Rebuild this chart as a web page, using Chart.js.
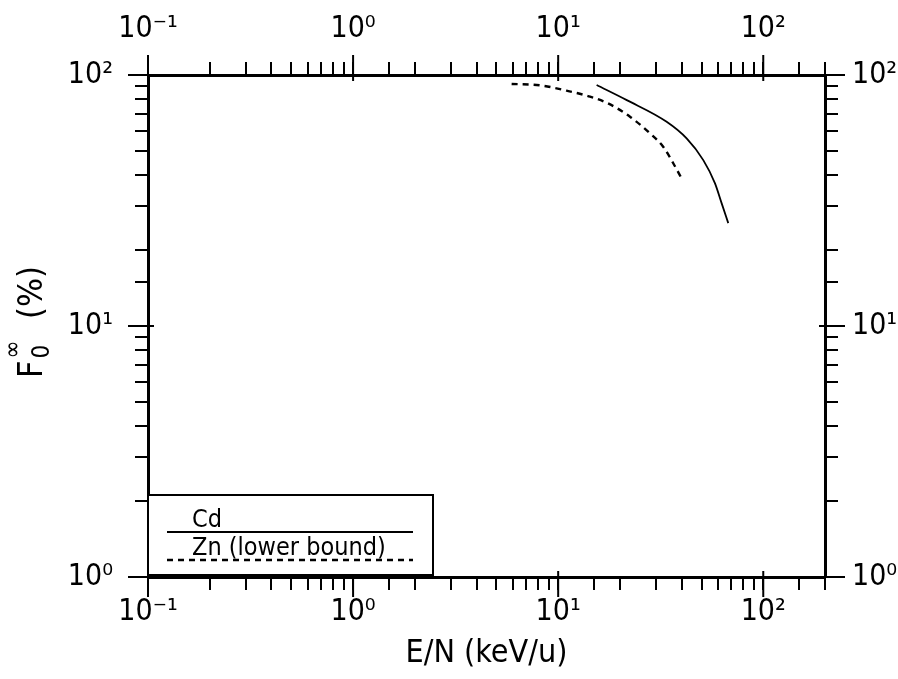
<!DOCTYPE html>
<html>
<head>
<meta charset="utf-8">
<title>F0 vs E/N</title>
<script src="https://cdn.jsdelivr.net/npm/chart.js@4"></script>
<style>
  body { margin: 0; background: #fff; }
  #wrap { width: 898px; height: 679px; }
</style>
</head>
<body>
<div id="wrap"><canvas id="chart" width="898" height="679"></canvas></div>
<script>
// Valores (E/N en keV/u, F0 en %)
const cdEnergy = [15.4, 21.6, 33.8, 42.3, 51.0, 58.1, 62.7, 67.5];
const cdFraction = [91.2, 79.4, 65.1, 55.9, 45.8, 37.1, 30.8, 25.7];
const znEnergy = [5.93, 8.15, 11.0, 14.3, 17.5, 22.4, 28.0, 32.5, 36.4, 40.0];
const znFraction = [92.1, 91.0, 86.6, 82.0, 77.1, 68.2, 58.6, 51.8, 44.5, 38.7];

const seriesLabels = ['Cd', 'Zn (lower bound)'];
const xTickValues = [0.1, 1, 10, 100];
const xTickLabels = ['10⁻¹', '10⁰', '10¹', '10²'];
const yTickValues = [1, 10, 100];
const yTickLabels = ['10⁰', '10¹', '10²'];
const xTitle = 'E/N (keV/u)';

const FONT = "'DejaVu Sans Condensed', 'DejaVu Sans', sans-serif";

function isDecade(v) {
    const l = Math.log10(v);
    return Math.abs(l - Math.round(l)) < 1e-9;
}

function labelFor(values, labels) {
    return function (value) {
        for (let i = 0; i < values.length; i++) {
            if (Math.abs(value - values[i]) / values[i] < 1e-9) return labels[i];
        }
        return '';
    };
}

function toPoints(xs, ys) {
    return xs.map((x, i) => ({ x: x, y: ys[i] }));
}

// Marcas mayores más largas (cruzan el borde)
const majorTicks = {
    id: 'majorTicks',
    afterDraw(chart) {
        const ctx = chart.ctx;
        const a = chart.chartArea;
        ctx.save();
        ctx.strokeStyle = '#000';
        ctx.lineWidth = 2;
        ['x', 'x2', 'y', 'y2'].forEach(id => {
            const s = chart.scales[id];
            s.ticks.forEach(t => {
                if (!isDecade(t.value)) return;
                const p = s.getPixelForValue(t.value);
                ctx.beginPath();
                if (id === 'x') { ctx.moveTo(p, a.bottom - 6); ctx.lineTo(p, a.bottom + 20); }
                if (id === 'x2') { ctx.moveTo(p, a.top + 6); ctx.lineTo(p, a.top - 20); }
                if (id === 'y') { ctx.moveTo(a.left + 6, p); ctx.lineTo(a.left - 20, p); }
                if (id === 'y2') { ctx.moveTo(a.right - 6, p); ctx.lineTo(a.right + 20, p); }
                ctx.stroke();
            });
        });
        ctx.restore();
    }
};

// Título del eje Y con subíndice y superíndice: F_0^∞ (%)
const yTitle = {
    id: 'yTitle',
    afterDraw(chart) {
        const ctx = chart.ctx;
        const a = chart.chartArea;
        ctx.save();
        ctx.translate(30, (a.top + a.bottom) / 2 - 4);
        ctx.rotate(-Math.PI / 2);
        ctx.fillStyle = '#000';
        ctx.textBaseline = 'alphabetic';
        ctx.textAlign = 'left';
        const big = '34px ' + FONT;
        const small = '24px ' + FONT;
        ctx.font = big;
        const wF = ctx.measureText('F').width;
        ctx.font = small;
        const wS = Math.max(ctx.measureText('0').width, ctx.measureText('∞').width);
        ctx.font = big;
        const wP = ctx.measureText('  (%)').width;
        let x = -(wF + wS + wP + 4) / 2;
        const base = 12;
        ctx.fillText('F', x, base);
        x += wF + 2;
        ctx.font = small;
        ctx.fillText('0', x, base + 7);
        ctx.fillText('∞', x, base - 22);
        x += wS + 2;
        ctx.font = big;
        ctx.fillText('  (%)', x, base);
        ctx.restore();
    }
};

// Leyenda en recuadro (esquina inferior izquierda)
const boxLegend = {
    id: 'boxLegend',
    afterDraw(chart) {
        const ctx = chart.ctx;
        const a = chart.chartArea;
        const left = a.left, bottom = a.bottom - 2;
        const w = 285, h = 80;
        ctx.save();
        ctx.fillStyle = '#fff';
        ctx.fillRect(left, bottom - h, w, h);
        ctx.strokeStyle = '#000';
        ctx.lineWidth = 2;
        ctx.strokeRect(left, bottom - h, w, h);
        ctx.fillStyle = '#000';
        ctx.font = '25px ' + FONT;
        ctx.textBaseline = 'alphabetic';
        chart.data.datasets.forEach((ds, i) => {
            const yLine = bottom - h + 37 + i * 28;
            ctx.fillText(ds.label, left + 44, yLine - 5);
            ctx.beginPath();
            ctx.setLineDash(ds.borderDash || []);
            ctx.lineWidth = ds.borderWidth;
            ctx.moveTo(left + 19, yLine);
            ctx.lineTo(left + 265, yLine);
            ctx.stroke();
        });
        ctx.restore();
    }
};

const tickFont = { family: FONT, size: 30 };
const gridOpts = { drawOnChartArea: false, drawTicks: true, tickLength: 13, lineWidth: 2, color: '#000' };
const borderOpts = { display: true, width: 3, color: '#000' };

const ctx = document.getElementById('chart').getContext('2d');
const chart = new Chart(ctx, {
    type: 'line',
    data: {
        datasets: [{
            label: seriesLabels[0],
            data: toPoints(cdEnergy, cdFraction),
            borderColor: '#000',
            borderWidth: 1.8,
            pointRadius: 0,
            cubicInterpolationMode: 'monotone',
            fill: false,
            xAxisID: 'x',
            yAxisID: 'y'
        }, {
            label: seriesLabels[1],
            data: toPoints(znEnergy, znFraction),
            borderColor: '#000',
            borderWidth: 2.4,
            borderDash: [6, 5],
            pointRadius: 0,
            cubicInterpolationMode: 'monotone',
            fill: false,
            xAxisID: 'x',
            yAxisID: 'y'
        }]
    },
    options: {
        responsive: false,
        animation: false,
        layout: { padding: 0 },
        plugins: { legend: { display: false }, tooltip: { enabled: false } },
        scales: {
            x: {
                type: 'logarithmic', position: 'bottom', min: 0.1, max: 200,
                grid: gridOpts, border: borderOpts,
                ticks: { callback: labelFor(xTickValues, xTickLabels), autoSkip: false, maxRotation: 0, padding: 4, color: '#000', font: tickFont },
                title: { display: true, text: xTitle, color: '#000', font: { family: FONT, size: 32 }, padding: { top: 0, bottom: 6 } },
                afterFit: s => { s.height = 102; }
            },
            x2: {
                type: 'logarithmic', position: 'top', min: 0.1, max: 200,
                grid: gridOpts, border: borderOpts,
                ticks: { callback: labelFor(xTickValues, xTickLabels), autoSkip: false, maxRotation: 0, padding: 15, color: '#000', font: tickFont },
                afterFit: s => { s.height = 75; }
            },
            y: {
                type: 'logarithmic', position: 'left', min: 1, max: 100,
                grid: gridOpts, border: borderOpts,
                ticks: { callback: labelFor(yTickValues, yTickLabels), autoSkip: false, padding: 22, color: '#000', font: tickFont },
                afterFit: s => { s.width = 148; }
            },
            y2: {
                type: 'logarithmic', position: 'right', min: 1, max: 100,
                grid: gridOpts, border: borderOpts,
                ticks: { callback: labelFor(yTickValues, yTickLabels), autoSkip: false, padding: 14, color: '#000', font: tickFont },
                afterFit: s => { s.width = 73; }
            }
        }
    },
    plugins: [majorTicks, yTitle, boxLegend]
});
</script>
</body>
</html>
